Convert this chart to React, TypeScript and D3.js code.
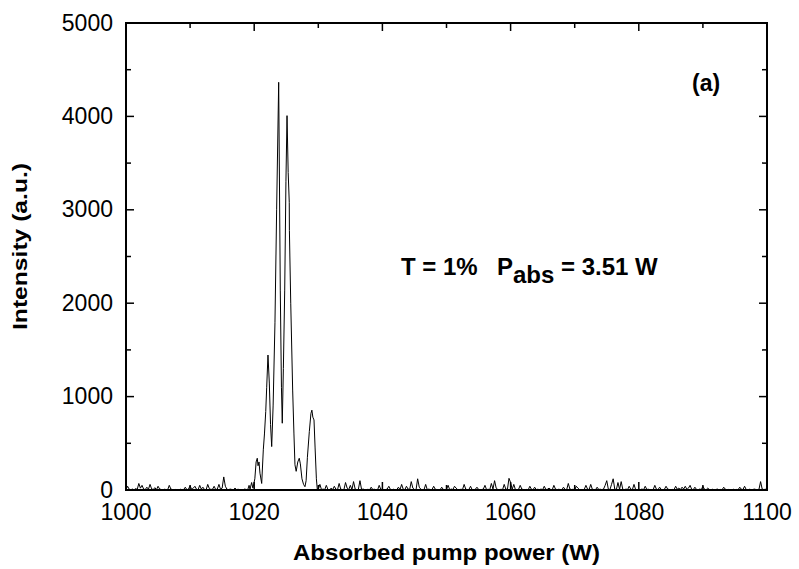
import React from "react";
import * as d3 from "d3";

const W = 799;
const H = 569;
const margin = { left: 126, right: 32, top: 23, bottom: 79 };

const xTicks = [1000, 1020, 1040, 1060, 1080, 1100];
const xMinor = [1010, 1030, 1050, 1070, 1090];
const yTicks = [0, 1000, 2000, 3000, 4000, 5000];
const yMinor = [500, 1500, 2500, 3500, 4500];

// baseline noise sampled every 0.25 nm
const noiseStep = 0.25;
const noiseLeftStart = 1000;
const noiseLeft = [
  5, 40, 8, 3, 10, 2, 15, 6, 70, 20, 50, 10, 4, 30, 8, 60, 12, 5, 25, 3,
  40, 10, 6, 2, 8, 5, 3, 50, 10, 4, 2, 6, 3, 2, 8, 4, 5, 30, 3, 10,
  45, 6, 20, 40, 8, 3, 50, 10, 30, 4, 2, 60, 15, 6, 8, 40, 4, 10, 60, 8,
  20, 140, 40, 8, 4, 10, 6, 3, 20, 5, 8, 2, 5, 3, 10, 6,
];
const noiseRightStart = 1030;
const noiseRight = [
  8, 60, 4, 10, 3, 50, 6, 2, 20, 5, 40, 8, 4, 70, 10, 3, 6, 80, 20, 5,
  50, 4, 90, 10, 3, 8, 100, 6, 10, 4, 3, 8, 2, 30, 5, 8, 4, 2, 50, 6,
  8, 3, 5, 10, 40, 6, 3, 8, 2, 5, 30, 4, 60, 8, 3, 40, 10, 5, 90, 20,
  6, 3, 120, 30, 8, 2, 5, 60, 4, 10, 3, 6, 40, 8, 5, 3, 2, 30, 6, 4,
  8, 50, 3, 10, 5, 40, 20, 4, 3, 8, 5, 60, 10, 3, 6, 40, 4, 2, 8, 30,
  6, 3, 5, 10, 50, 4, 8, 3, 70, 10, 100, 20, 6, 3, 8, 4, 60, 10, 5, 125,
  80, 8, 60, 4, 3, 8, 50, 10, 4, 3, 6, 2, 40, 8, 3, 30, 5, 8, 4, 10,
  3, 40, 5, 8, 20, 6, 3, 50, 10, 4, 8, 5, 3, 30, 6, 4, 70, 10, 5, 8,
  3, 40, 20, 4, 6, 3, 8, 50, 10, 4, 60, 8, 5, 3, 30, 6, 8, 4, 10, 50,
  100, 8, 5, 60, 120, 10, 4, 80, 6, 90, 8, 3, 10, 5, 40, 8, 4, 60, 6, 3,
  8, 5, 10, 3, 40, 6, 8, 4, 3, 5, 50, 8, 4, 30, 6, 3, 8, 40, 10, 5,
  3, 6, 4, 40, 8, 20, 5, 30, 10, 40, 6, 20, 50, 8, 4, 30, 6, 3, 10, 5,
  40, 8, 3, 20, 6, 4, 8, 3, 5, 10, 3, 6, 4, 30, 8, 3, 6, 5, 2, 8,
  3, 6, 4, 30, 8, 5, 40, 6, 3, 8, 5, 4, 10, 6, 3, 8, 90, 10, 5, 8, 10,
];

// emission peaks region
const peakNm = [
  1019.0, 1019.2, 1019.35, 1019.6, 1019.8, 1020.1, 1020.3, 1020.48, 1020.6, 1020.75,
  1020.9, 1021.17, 1021.42, 1021.6, 1021.8, 1021.95, 1022.15, 1022.36, 1022.55, 1022.73,
  1022.95, 1023.24, 1023.5, 1023.82, 1024.07, 1024.25, 1024.38, 1024.55, 1024.76, 1024.95,
  1025.12, 1025.3, 1025.47, 1025.49, 1025.7, 1026.0, 1026.2, 1026.36, 1026.55, 1026.8,
  1027.03, 1027.2, 1027.45, 1027.7, 1027.92, 1028.1, 1028.3, 1028.6, 1028.85, 1029.0,
  1029.15, 1029.33, 1029.5, 1029.7, 1029.84,
];
const peakVal = [
  5, 50, 10, 80, 20, 120, 300, 340, 260, 300,
  180, 70, 430, 600, 840, 1100, 1445, 1145, 700, 465,
  900, 1790, 3000, 4365, 2140, 1100, 715, 1300, 2140, 3300,
  4008, 3400, 3080, 2780, 2000, 1070, 600, 270, 200, 300,
  340, 280, 120, 60, 35, 100, 350, 625, 820, 855,
  780, 750, 450, 120, 10,
];

export default function App() {
  const x = d3.scaleLinear().domain([1000, 1100]).range([margin.left, W - margin.right]);
  const y = d3.scaleLinear().domain([0, 5000]).range([H - margin.bottom, margin.top]);

  const pts: [number, number][] = [];
  noiseLeft.forEach((v, i) => pts.push([noiseLeftStart + i * noiseStep, v]));
  peakNm.forEach((n, i) => pts.push([n, peakVal[i]]));
  noiseRight.forEach((v, i) => pts.push([noiseRightStart + i * noiseStep, v]));

  const line = d3
    .line<[number, number]>()
    .x((d) => x(d[0]))
    .y((d) => y(d[1]));

  const x0 = margin.left;
  const x1 = W - margin.right;
  const y0 = H - margin.bottom;
  const y1 = margin.top;
  const font = "Arial, 'Liberation Sans', Helvetica, sans-serif";
  const majorLen = 8;
  const minorLen = 5;

  return (
    <svg
      width={W}
      height={H}
      style={{ position: "absolute", left: 0, top: 0, background: "#fff" }}
      fontFamily={font}
    >
      <rect x={0} y={0} width={W} height={H} fill="#fff" />
      <path d={line(pts) ?? ""} fill="none" stroke="#000" strokeWidth={1} strokeLinejoin="round" />

      {/* frame */}
      <rect x={x0} y={y1} width={x1 - x0} height={y0 - y1} fill="none" stroke="#000" strokeWidth={2} />

      {/* x ticks */}
      {xTicks.map((t) => (
        <g key={"xt" + t}>
          <line x1={x(t)} x2={x(t)} y1={y0} y2={y0 - majorLen} stroke="#000" strokeWidth={1.5} />
          <line x1={x(t)} x2={x(t)} y1={y1} y2={y1 + majorLen} stroke="#000" strokeWidth={1.5} />
          <text x={x(t)} y={520} textAnchor="middle" fontSize={23} fill="#000">
            {t}
          </text>
        </g>
      ))}
      {xMinor.map((t) => (
        <g key={"xm" + t}>
          <line x1={x(t)} x2={x(t)} y1={y0} y2={y0 - minorLen} stroke="#000" strokeWidth={1.5} />
          <line x1={x(t)} x2={x(t)} y1={y1} y2={y1 + minorLen} stroke="#000" strokeWidth={1.5} />
        </g>
      ))}

      {/* y ticks */}
      {yTicks.map((t) => (
        <g key={"yt" + t}>
          <line x1={x0} x2={x0 + majorLen} y1={y(t)} y2={y(t)} stroke="#000" strokeWidth={1.5} />
          <line x1={x1} x2={x1 - majorLen} y1={y(t)} y2={y(t)} stroke="#000" strokeWidth={1.5} />
          <text x={113} y={y(t)} dy="0.33em" textAnchor="end" fontSize={23} fill="#000">
            {t}
          </text>
        </g>
      ))}
      {yMinor.map((t) => (
        <g key={"ym" + t}>
          <line x1={x0} x2={x0 + minorLen} y1={y(t)} y2={y(t)} stroke="#000" strokeWidth={1.5} />
          <line x1={x1} x2={x1 - minorLen} y1={y(t)} y2={y(t)} stroke="#000" strokeWidth={1.5} />
        </g>
      ))}

      {/* axis titles */}
      <text
        x={(x0 + x1) / 2}
        y={560}
        textAnchor="middle"
        fontSize={22}
        fontWeight="bold"
        fill="#000"
        textLength={307}
        lengthAdjust="spacingAndGlyphs"
      >
        Absorbed pump power (W)
      </text>
      <text
        transform={`translate(27, 246.5) rotate(-90)`}
        textAnchor="middle"
        fontSize={20}
        fontWeight="bold"
        fill="#000"
        textLength={167}
        lengthAdjust="spacingAndGlyphs"
      >
        Intensity (a.u.)
      </text>

      {/* annotations */}
      <text x={401} y={275} fontSize={24} fontWeight="bold" fill="#000">
        <tspan>T = 1%</tspan>
        <tspan x={497}>P</tspan>
        <tspan dy={8}>abs</tspan>
        <tspan dy={-8}> = 3.51 W</tspan>
      </text>
      <text x={692} y={91} fontSize={23} fontWeight="bold" fill="#000">
        (a)
      </text>
    </svg>
  );
}
